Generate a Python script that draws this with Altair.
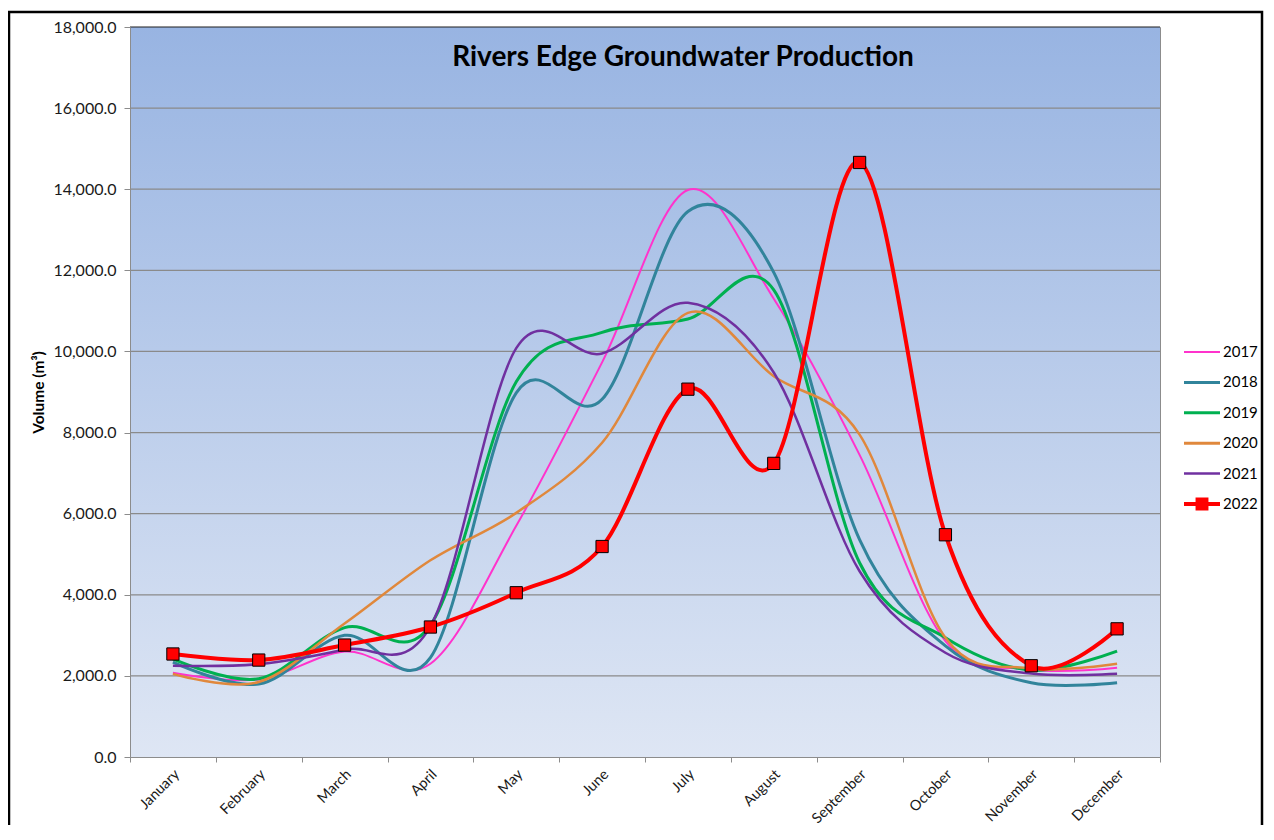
import altair as alt
import pandas as pd

months = ["January", "February", "March", "April", "May", "June", "July",
          "August", "September", "October", "November", "December"]
years = ["2017", "2018", "2019", "2020", "2021", "2022"]

v2017 = [2080, 1910, 2600, 2300, 5700, 9730, 13980, 11300, 7450, 2860, 2160, 2200]
v2018 = [2340, 1800, 3000, 2450, 8980, 8820, 13450, 11950, 5360, 2740, 1830, 1830]
v2019 = [2420, 1930, 3190, 3250, 9250, 10470, 10800, 11520, 4790, 2940, 2140, 2610]
v2020 = [2050, 1850, 3290, 4850, 6020, 7750, 10950, 9390, 7950, 2940, 2190, 2300]
v2021 = [2250, 2290, 2650, 3220, 10080, 9950, 11200, 9480, 4580, 2570, 2060, 2050]
v2022 = [2540, 2390, 2760, 3205, 4050, 5190, 9070, 7240, 14660, 5480, 2250, 3160]
series = [v2017, v2018, v2019, v2020, v2021, v2022]

colors = ["#FF33CC", "#31849B", "#00B050", "#E0883C", "#7030A0", "#FF0000"]
widths = [2, 3, 3, 2.5, 2.5, 4]
y_ticks = [0, 2000, 4000, 6000, 8000, 10000, 12000, 14000, 16000, 18000]
title_text = "Rivers Edge Groundwater Production"
y_title = "Volume (m³)"

# legend glyphs (unit coordinates, scaled by the legend symbol size)
legend_paths = [
    "M-1.2,-0.067H1.2V0.067H-1.2Z",
    "M-1.2,-0.1H1.2V0.1H-1.2Z",
    "M-1.2,-0.1H1.2V0.1H-1.2Z",
    "M-1.2,-0.1H1.2V0.1H-1.2Z",
    "M-1.2,-0.083H1.2V0.083H-1.2Z",
    "M-1.2,-0.133H1.2V0.133H-1.2ZM-0.43,-0.43H0.43V0.43H-0.43Z",
]

rows = []
for yr, vals in zip(years, series):
    for m, v in zip(months, vals):
        rows.append({"Month": m, "Year": yr, "Volume": v})
df = pd.DataFrame(rows)

W, H = 1030, 730
FONT = "Lato"

x_enc = alt.X(
    "Month:N", sort=months,
    scale=alt.Scale(type="band", domain=months, paddingInner=0, paddingOuter=0),
    axis=alt.Axis(title=None, labelAngle=-45, labelAlign="right", labelBaseline="top",
                  tickBand="extent", tickSize=5, labelPadding=5, labelOffset=-1,
                  labelFontSize=14.5, labelFont=FONT, labelColor="#1a1a1a",
                  domainColor="#8C8C8C", tickColor="#8C8C8C", grid=False, zindex=1),
)
y_enc = alt.Y(
    "Volume:Q",
    scale=alt.Scale(domain=[0, 18000], nice=False, zero=True),
    axis=alt.Axis(values=y_ticks, format=",.1f", grid=False, title=y_title,
                  tickSize=6, labelPadding=8, labelFontSize=16, labelFont=FONT,
                  labelColor="#1a1a1a", domainColor="#8C8C8C", tickColor="#8C8C8C",
                  titleFont=FONT, titleFontSize=15.5, titleFontWeight="bold",
                  titleColor="black", titlePadding=6, zindex=1),
)

gradient = {
    "gradient": "linear", "x1": 0, "y1": 0, "x2": 0, "y2": 1,
    "stops": [{"offset": 0, "color": "#98B4E2"}, {"offset": 1, "color": "#DEE6F4"}],
}
one = pd.DataFrame({"a": [0]})

bg = alt.Chart(one).mark_rect(fill=gradient).encode(
    x=alt.value(0), x2=alt.value(W), y=alt.value(0), y2=alt.value(H))

grid = alt.Chart(pd.DataFrame({"Volume": y_ticks[1:]})).mark_rule(strokeWidth=1.2).encode(
    y=y_enc,
    color=alt.condition(alt.datum.Volume == 18000, alt.value("#1F1F1F"), alt.value("#8A8A8A")),
)

line_layers = []
for yr, c, w in zip(years, colors, widths):
    line_layers.append(
        alt.Chart(df).transform_filter(alt.datum.Year == yr)
        .mark_line(interpolate="cardinal", strokeWidth=w, color=c)
        .encode(x=x_enc, y=y_enc)
    )

markers = alt.Chart(df).transform_filter(alt.datum.Year == "2022").mark_square(
    size=150, fill="#FF0000", stroke="#000000", strokeWidth=1, opacity=1, filled=True
).encode(x=x_enc, y=y_enc)

leg_props = dict(orient="none", legendX=1057, legendY=310, title=None, symbolSize=900,
                 symbolStrokeWidth=0, labelFontSize=15, labelFont=FONT, labelColor="black",
                 labelOffset=6, rowPadding=7.4, padding=0)
legend_layer = alt.Chart(df).transform_filter("false").mark_point(filled=True, opacity=1).encode(
    x=x_enc, y=y_enc,
    color=alt.Color("Year:N", scale=alt.Scale(domain=years, range=colors), legend=alt.Legend(**leg_props)),
    shape=alt.Shape("Year:N", scale=alt.Scale(domain=years, range=legend_paths), legend=alt.Legend(**leg_props)),
)

title = alt.Chart(pd.DataFrame({"t": [title_text]})).mark_text(
    font=FONT, fontSize=28, fontWeight="bold", color="black", align="center", baseline="alphabetic"
).encode(x=alt.value(553), y=alt.value(39), text="t:N")

frame = alt.Chart(one).mark_rect(fill="transparent", stroke="black", strokeWidth=2.5).encode(
    x=alt.value(-121), x2=alt.value(1132), y=alt.value(-15), y2=alt.value(H + 150))

chart = alt.layer(bg, grid, *line_layers, markers, legend_layer, title, frame).properties(
    width=W, height=H,
    autosize=alt.AutoSizeParams(type="none"),
    padding={"left": 122, "top": 19, "right": 104, "bottom": 68},
).configure(background="white").configure_view(stroke="#8C8C8C", strokeWidth=1)

chart.save("out.html", embed_options={"renderer": "svg", "actions": False})
